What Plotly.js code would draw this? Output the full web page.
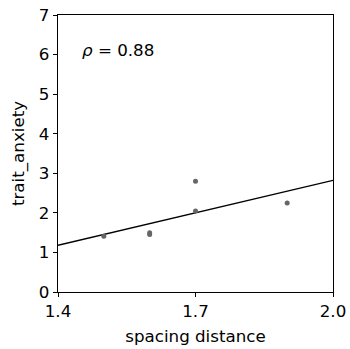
<!DOCTYPE html>
<html>
<head>
<meta charset="utf-8">
<script src="https://cdn.plot.ly/plotly-3.0.1.min.js"></script>
<style>html,body{margin:0;padding:0;background:#fff;}#chart{width:350px;height:349px;}</style>
</head>
<body>
<div id="chart"></div>
<script>
const spacing = [1.5, 1.6, 1.6, 1.7, 1.7, 1.9];
const anxiety = [1.41, 1.45, 1.50, 2.80, 2.05, 2.25];
const xTicks = [1.4, 1.7, 2.0];
const xTickText = ["1.4", "1.7", "2.0"];
const yTicks = [0, 1, 2, 3, 4, 5, 6, 7];
const rhoText = "<i>ρ</i> = 0.88";

// least-squares fit drawn across axis range
const n = spacing.length;
const mx = spacing.reduce((a, b) => a + b, 0) / n;
const my = anxiety.reduce((a, b) => a + b, 0) / n;
let sxy = 0, sxx = 0;
for (let i = 0; i < n; i++) { sxy += (spacing[i] - mx) * (anxiety[i] - my); sxx += (spacing[i] - mx) ** 2; }
const slope = sxy / sxx, icpt = my - slope * mx;
const fitX = [xTicks[0], xTicks[xTicks.length - 1]];
const fitY = fitX.map(x => icpt + slope * x);

const font = {family: "DejaVu Sans, sans-serif", size: 16.7, color: "#000"};
const data = [
  {x: fitX, y: fitY, mode: "lines", line: {color: "#000", width: 1.3}, hoverinfo: "skip"},
  {x: spacing, y: anxiety, mode: "markers", marker: {color: "#666666", size: 5}}
];
const layout = {
  width: 350, height: 349,
  margin: {l: 58, r: 17, t: 15, b: 57},
  showlegend: false,
  paper_bgcolor: "#fff", plot_bgcolor: "#fff",
  font: font,
  xaxis: {range: [1.4, 2.0], tickvals: xTicks, ticktext: xTickText, showgrid: false, zeroline: false,
          showline: true, mirror: true, linecolor: "#000", linewidth: 1.2, ticks: "outside", ticklen: 4,
          tickcolor: "#000", tickfont: font, title: {text: "spacing distance", font: font, standoff: 10}},
  yaxis: {range: [0, 7], tickvals: yTicks, showgrid: false, zeroline: false,
          showline: true, mirror: true, linecolor: "#000", linewidth: 1.2, ticks: "outside", ticklen: 4,
          tickcolor: "#000", tickfont: font, title: {text: "trait_anxiety", font: font, standoff: 10}},
  annotations: [{text: rhoText, xref: "x domain", yref: "y domain", x: 0.08, y: 0.875,
                 xanchor: "left", yanchor: "middle", showarrow: false, font: font}]
};
Plotly.newPlot("chart", data, layout, {displayModeBar: false, staticPlot: true});
</script>
</body>
</html>
